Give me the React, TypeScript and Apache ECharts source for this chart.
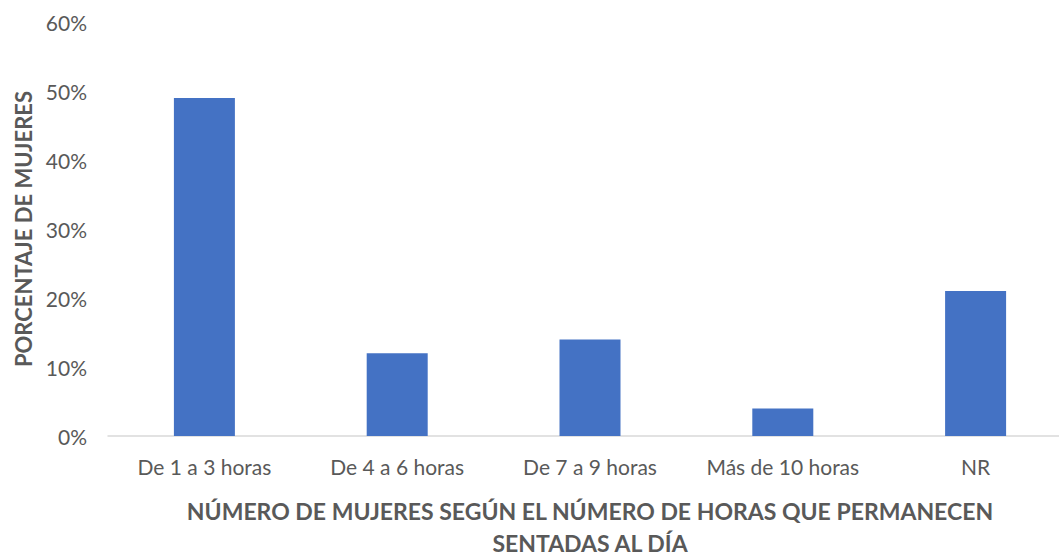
import React, { useEffect, useRef } from "react";
import * as echarts from "echarts";

const categories = ["De 1 a 3 horas", "De 4 a 6 horas", "De 7 a 9 horas", "Más de 10 horas", "NR"];
const values = [49, 12, 14, 4, 21];
const yTicks = [0, 10, 20, 30, 40, 50, 60];

export default function App() {
  const ref = useRef<HTMLDivElement>(null);
  useEffect(() => {
    document.body.style.margin = "0";
    const chart = echarts.init(ref.current!, null, { renderer: "svg" });
    chart.setOption({
      animation: false,
      textStyle: { fontFamily: "Lato" },
      grid: { left: 108, right: -13, top: 22, bottom: 123, containLabel: false, outerBoundsMode: "none" },
      xAxis: {
        type: "category",
        data: categories,
        axisLine: { lineStyle: { color: "#d9d9d9", width: 1.5 } },
        axisTick: { show: false },
        axisLabel: { color: "#595959", fontSize: 21, margin: 20, interval: 0, fontFamily: "Lato" },
        name: "NÚMERO DE MUJERES SEGÚN EL NÚMERO DE HORAS QUE PERMANECEN\nSENTADAS AL DÍA",
        nameLocation: "middle",
        nameGap: 59,
        nameTextStyle: { color: "#595959", fontSize: 23, fontWeight: "bold", lineHeight: 32, fontFamily: "Lato" },
      },
      yAxis: {
        type: "value",
        min: yTicks[0],
        max: yTicks[yTicks.length - 1],
        interval: 10,
        splitLine: { show: false },
        axisLine: { show: false },
        axisTick: { show: false },
        axisLabel: { color: "#595959", fontSize: 21, margin: 21, formatter: "{value}%", fontFamily: "Lato" },
        name: "PORCENTAJE DE MUJERES",
        nameLocation: "middle",
        nameGap: 74,
        nameTextStyle: { color: "#595959", fontSize: 22, fontWeight: "bold", fontFamily: "Lato" },
      },
      series: [
        {
          type: "bar",
          data: values,
          barWidth: 61,
          itemStyle: { color: "#4472c4" },
        },
      ],
    });
    return () => chart.dispose();
  }, []);
  return <div ref={ref} style={{ width: 1059, height: 559 }} />;
}
